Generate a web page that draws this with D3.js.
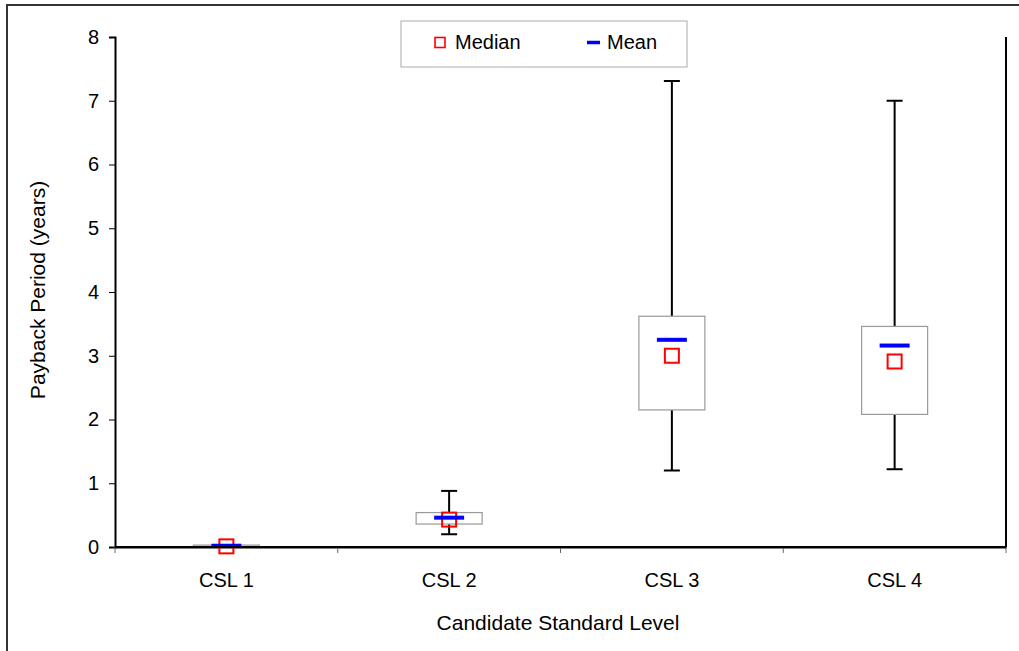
<!DOCTYPE html>
<html><head><meta charset="utf-8">
<script src="https://cdn.jsdelivr.net/npm/d3@7"></script>
<style>body{margin:0;background:#fff}svg{display:block;font-family:"Liberation Sans",Arial,sans-serif}</style>
</head><body><svg id="c" width="1019" height="651"></svg>
<script>
const categories = ["CSL 1","CSL 2","CSL 3","CSL 4"];
const minVals    = [0.00, 0.20, 1.20, 1.22];
const q1Vals     = [0.00, 0.36, 2.15, 2.08];
const q3Vals     = [0.03, 0.54, 3.62, 3.46];
const maxVals    = [0.03, 0.88, 7.31, 7.00];
const medianVals = [0.01, 0.43, 3.00, 2.91];
const meanVals   = [0.02, 0.46, 3.25, 3.16];
const yTicks     = [0,1,2,3,4,5,6,7,8];

const svg = d3.select("#c");
const L=115, R=1006, T=37, B=547;
const x = d3.scaleBand().domain(categories).range([L,R]);
const y = d3.scaleLinear().domain([0,8]).range([B,T]);

// outer frame
svg.append("rect").attr("x",7).attr("y",5).attr("width",1030).attr("height",670)
  .attr("fill","none").attr("stroke","#333").attr("stroke-width",2);

// right plot edge
svg.append("line").attr("x1",R).attr("x2",R).attr("y1",T).attr("y2",B)
  .attr("stroke","#000").attr("stroke-width",2);

// axes
const yAx = svg.append("g").attr("transform",`translate(${L},0)`)
  .call(d3.axisLeft(y).tickValues(yTicks).tickSize(6).tickPadding(10));
yAx.select(".domain").attr("stroke-width",2);
yAx.selectAll("text").attr("font-size",20).attr("fill","#000");

const xAx = svg.append("g").attr("transform",`translate(0,${B})`)
  .call(d3.axisBottom(x).tickSize(0).tickPadding(26));
xAx.select(".domain").attr("stroke-width",2);
xAx.selectAll("text").attr("font-size",20).attr("fill","#000");
// boundary ticks
const bounds = categories.map(c=>x(c)).concat([R]);
svg.append("g").selectAll("line").data(bounds).join("line")
  .attr("x1",d=>d).attr("x2",d=>d).attr("y1",B).attr("y2",B+6)
  .attr("stroke","#666").attr("stroke-width",1);

const data = categories.map((c,i)=>({c,min:minVals[i],q1:q1Vals[i],q3:q3Vals[i],max:maxVals[i],med:medianVals[i],mean:meanVals[i]}));
const bw = 66;
const g = svg.append("g");
data.forEach(d=>{
  const cx = x(d.c)+x.bandwidth()/2;
  if (d.max>d.q3){
    g.append("line").attr("x1",cx).attr("x2",cx).attr("y1",y(d.q3)).attr("y2",y(d.max)).attr("stroke","#000").attr("stroke-width",2);
    g.append("line").attr("x1",cx-8).attr("x2",cx+8).attr("y1",y(d.max)).attr("y2",y(d.max)).attr("stroke","#000").attr("stroke-width",2);
  }
  if (d.min<d.q1){
    g.append("line").attr("x1",cx).attr("x2",cx).attr("y1",y(d.q1)).attr("y2",y(d.min)).attr("stroke","#000").attr("stroke-width",2);
    g.append("line").attr("x1",cx-8).attr("x2",cx+8).attr("y1",y(d.min)).attr("y2",y(d.min)).attr("stroke","#000").attr("stroke-width",2);
  }
  g.append("rect").attr("x",cx-bw/2).attr("width",bw).attr("y",y(d.q3)).attr("height",Math.max(2,y(d.q1)-y(d.q3)))
    .attr("fill","#fff").attr("stroke","#999").attr("stroke-width",1.2);
  g.append("rect").attr("x",cx-7).attr("y",y(d.med)-7).attr("width",14).attr("height",14)
    .attr("fill","none").attr("stroke","#f00").attr("stroke-width",2);
  g.append("line").attr("x1",cx-15).attr("x2",cx+15).attr("y1",y(d.mean)).attr("y2",y(d.mean))
    .attr("stroke","#00f").attr("stroke-width",4);
});
// redraw x domain on top
svg.append("line").attr("x1",L).attr("x2",R).attr("y1",B).attr("y2",B).attr("stroke","#000").attr("stroke-width",2);

// legend
const lg = svg.append("g");
lg.append("rect").attr("x",401).attr("y",21).attr("width",286).attr("height",46).attr("fill","#fff").attr("stroke","#aaa").attr("stroke-width",1);
lg.append("rect").attr("x",435).attr("y",37.5).attr("width",10).attr("height",10).attr("fill","none").attr("stroke","#f00").attr("stroke-width",1.6);
lg.append("text").attr("x",455).attr("y",49).attr("font-size",20).text("Median");
lg.append("line").attr("x1",587).attr("x2",600).attr("y1",42.5).attr("y2",42.5).attr("stroke","#00f").attr("stroke-width",3.5);
lg.append("text").attr("x",607).attr("y",49).attr("font-size",20).text("Mean");

// titles
svg.append("text").attr("transform","translate(45,290) rotate(-90)").attr("text-anchor","middle").attr("font-size",21).text("Payback Period (years)");
svg.append("text").attr("x",558).attr("y",630).attr("text-anchor","middle").attr("font-size",21).text("Candidate Standard Level");
</script></body></html>
